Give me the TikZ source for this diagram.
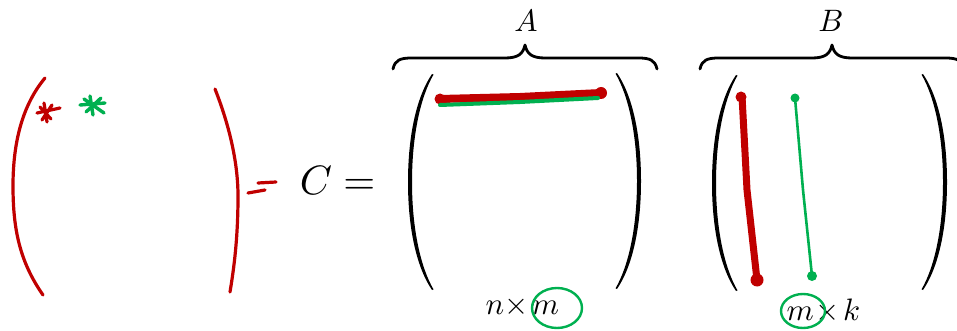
\documentclass[tikz,border=0pt]{standalone}
\definecolor{myred}{RGB}{192,0,0}
\definecolor{mygreen}{RGB}{0,176,80}
\tikzset{
  hand/.style={line width=3.2pt, line cap=round, line join=round},
  bracestroke/.style={line width=2.8pt, line cap=round, line join=round},
  lbl/.style={scale=3.1, inner sep=0pt},
  pics/lpar/.style={code={
    \fill (0,0) .. controls (-15,22) and (-24,60) .. (-24,108)
      .. controls (-24,156) and (-15,194) .. (0,216)
      -- (1.5,215.4) .. controls (-11,194) and (-20,156) .. (-20,108)
      .. controls (-20,60) and (-11,22) .. (1.5,0.6) -- cycle;}}
}
\begin{document}
\begin{tikzpicture}[x=1pt,y=-1pt]
\useasboundingbox (0,0) rectangle (957,331);
\clip (0,0) rectangle (957,331);

% hand-drawn result matrix
\draw[hand, myred] (45,78) .. controls (20,108) and (13,148) .. (13,186)
   .. controls (13,230) and (20,262) .. (43,295);
\draw[hand, myred] (215,89) .. controls (228,122) and (238,160) .. (238,196)
   .. controls (238,238) and (234,268) .. (230,292);
% red star
\draw[line width=3.2pt, line cap=round, myred]
  (37,113) -- (60,108)
  (44,103) -- (47,122)
  (40,107) -- (51,119)
  (42,120) -- (52,105);
% green star
\draw[line width=3.4pt, line cap=round, mygreen]
  (80,105) -- (105,103)
  (90,96) -- (93,115)
  (84,99) -- (104,113)
  (86,112) -- (101,98);
% hand-drawn equal sign
\draw[hand, myred] (258,183) -- (276,182);
\draw[hand, myred] (248,193) -- (265,190);

\node[anchor=base west, scale=4.1, inner sep=0pt] (ceq) at (299,194) {$C =$};

% matrix A
\pic[black] at (432,74) {lpar};
\pic[black, xscale=-1] at (617,73) {lpar};
\draw[bracestroke] (393,69) .. controls (395,60) and (400,58) .. (412,58) -- (505,58)
   .. controls (518,58) and (523,54) .. (525,45)
   .. controls (527,54) and (532,58) .. (545,58) -- (638,58)
   .. controls (650,58) and (655,60) .. (657,69);
\node[lbl, anchor=base] (A) at (526,32) {$A$};
\node[lbl, anchor=base west] (nm) at (485,314) {$n{\times}\mkern2mu m$};
\draw[line width=2.4pt, mygreen] (557,308) ellipse [x radius=25, y radius=20];

% row of A
\draw[line width=8pt, line cap=round, myred] (440,99) -- (520,97) -- (601,93);
\fill[myred] (440,99) circle (5.5) (601,93) circle (6);
\draw[line width=4pt, line cap=round, mygreen] (440,105) -- (520,102) -- (598,98);

% matrix B
\pic[black] at (736,75) {lpar};
\pic[black, xscale=-1] at (923,74) {lpar};
\draw[bracestroke] (700,69) .. controls (702,60) and (707,58) .. (719,58) -- (812,58)
   .. controls (825,58) and (830,54) .. (832,45)
   .. controls (834,54) and (839,58) .. (852,58) -- (945,58)
   .. controls (957,58) and (962,60) .. (964,69);
\node[lbl, anchor=base] (B) at (831,32) {$B$};
\node[lbl, anchor=base west] (mk) at (786,320) {$m\mkern1mu{\times}\mkern2mu k$};
\draw[line width=2.4pt, mygreen] (803,311) ellipse [x radius=22, y radius=17];

% columns of B
\draw[line width=7pt, line cap=round, myred] (742,96) -- (747,190) -- (757,280);
\fill[myred] (741,97) circle (5.5) (757,280) circle (6.5);
\draw[line width=2.6pt, line cap=round, mygreen] (795,98) -- (803,190) -- (812,276);
\fill[mygreen] (795,98) circle (4.5) (812,276) circle (5);
\end{tikzpicture}
\end{document}
